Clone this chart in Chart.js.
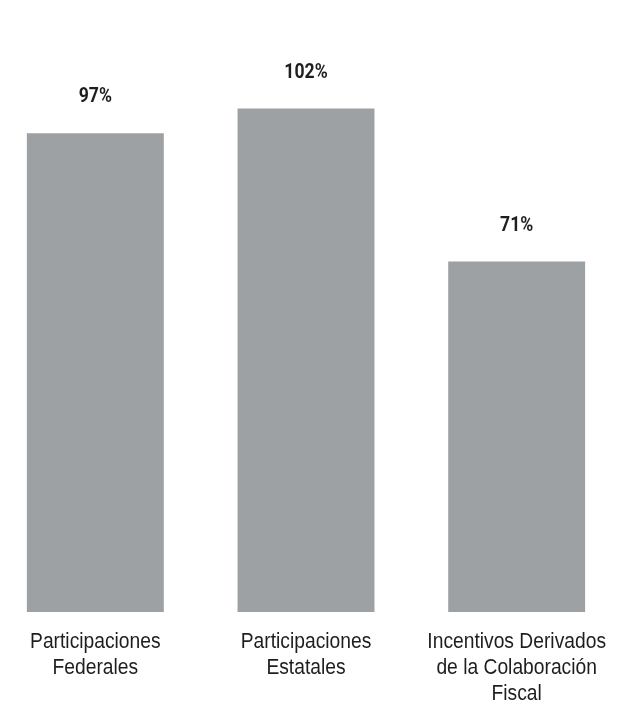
<!DOCTYPE html>
<html>
<head>
<meta charset="utf-8">
<script src="https://cdn.jsdelivr.net/npm/chart.js@4.4.0/dist/chart.umd.min.js"></script>
<style>
  html, body { margin: 0; padding: 0; background: #fff; overflow: hidden; }
  #wrap { position: absolute; left: -10px; top: 0; width: 632px; height: 704px; }
</style>
</head>
<body>
<div id="wrap"><canvas id="myChart"></canvas></div>
<script>
// chart values
let categories = [
    ['Participaciones', 'Federales'],
    ['Participaciones', 'Estatales'],
    ['Incentivos Derivados', 'de la Colaboración', 'Fiscal']
];
let percentValues = [97, 102, 71];
let valueLabels = ['97%', '102%', '71%'];

// draw the % labels above each bar (slightly condensed like the original)
let topLabels = {
    id: 'topLabels',
    afterDatasetsDraw: function (chart) {
        let ctx = chart.ctx;
        let meta = chart.getDatasetMeta(0);
        meta.data.forEach(function (bar, i) {
            ctx.save();
            ctx.translate(bar.x, bar.y - 36);
            ctx.scale(0.88, 1);
            ctx.font = 'bold 20px Roboto';
            ctx.fillStyle = '#1e1e1e';
            ctx.textAlign = 'center';
            ctx.textBaseline = 'middle';
            ctx.fillText(valueLabels[i], 0, 0);
            ctx.restore();
        });
    }
};

// category labels drawn narrow (Arial Narrow look) at the x scale tick positions
let narrowTicks = {
    id: 'narrowTicks',
    afterDraw: function (chart) {
        let ctx = chart.ctx;
        let xScale = chart.scales.x;
        categories.forEach(function (lines, i) {
            let x = xScale.getPixelForTick(i);
            lines.forEach(function (line, j) {
                ctx.save();
                ctx.translate(x, chart.chartArea.bottom + 30 + j * 26);
                ctx.scale(0.875, 1);
                ctx.font = '22px "Liberation Sans"';
                ctx.fillStyle = '#1e1e1e';
                ctx.textAlign = 'center';
                ctx.textBaseline = 'middle';
                ctx.fillText(line, 0, 0);
                ctx.restore();
            });
        });
    }
};

let ctx = document.getElementById('myChart').getContext('2d');
let myChart = new Chart(ctx, {
    type: 'bar',
    data: {
        labels: categories,
        datasets: [{
            data: percentValues,
            backgroundColor: '#9da1a4',
            borderWidth: 0,
            categoryPercentage: 1,
            barPercentage: 0.65
        }]
    },
    options: {
        responsive: true,
        maintainAspectRatio: false,
        animation: false,
        layout: { padding: 0 },
        plugins: {
            legend: { display: false },
            tooltip: { enabled: false }
        },
        scales: {
            x: {
                grid: { display: false },
                border: { display: false },
                ticks: { display: false },
                afterFit: function (scale) {
                    scale.height = 92;
                }
            },
            y: {
                display: false,
                min: 0,
                max: 124
            }
        }
    },
    plugins: [topLabels, narrowTicks]
});
</script>
</body>
</html>
